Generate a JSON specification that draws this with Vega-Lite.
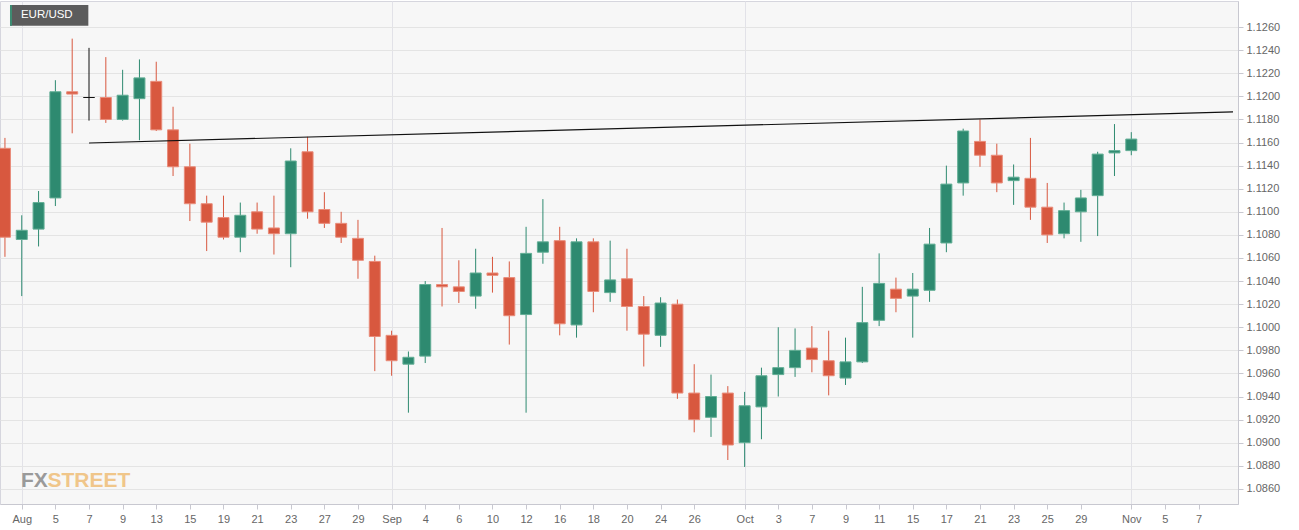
{
  "$schema": "https://vega.github.io/schema/vega-lite/v6.json",
  "autosize": {"type": "none"},
  "padding": {"left": 0, "top": 1, "right": 61, "bottom": 26},
  "width": 1238,
  "height": 503,
  "background": "#ffffff",
  "config": {
    "view": {"fill": "#f7f7f7", "stroke": "#d6d6de"},
    "axis": {
      "labelFont": "Liberation Sans",
      "labelFontSize": 11,
      "labelColor": "#666666",
      "tickColor": "#c8c8d0",
      "domainColor": "#c8c8d0",
      "gridColor": "#e4e4e4",
      "tickSize": 5,
      "labelOverlap": false,
      "title": null
    },
    "axisX": {"labelOverlap": false, "labelFlush": false},
    "axisY": {"labelOverlap": false}
  },
  "datasets": {
    "candles": [
      {"date": "2019-07-31", "t": -1, "o": 1.1155, "h": 1.1164, "l": 1.1061, "c": 1.1078},
      {"date": "2019-08-01", "t": 0, "o": 1.1076, "h": 1.1097, "l": 1.1027, "c": 1.1084},
      {"date": "2019-08-02", "t": 1, "o": 1.1085, "h": 1.1118, "l": 1.1070, "c": 1.1108},
      {"date": "2019-08-05", "t": 2, "o": 1.1112, "h": 1.1214, "l": 1.1105, "c": 1.1204},
      {"date": "2019-08-06", "t": 3, "o": 1.1204, "h": 1.1250, "l": 1.1168, "c": 1.1202},
      {"date": "2019-08-07", "t": 4, "o": 1.1199, "h": 1.1242, "l": 1.1179, "c": 1.1199},
      {"date": "2019-08-08", "t": 5, "o": 1.1199, "h": 1.1234, "l": 1.1177, "c": 1.1180},
      {"date": "2019-08-09", "t": 6, "o": 1.1180, "h": 1.1223, "l": 1.1179, "c": 1.1201},
      {"date": "2019-08-12", "t": 7, "o": 1.1198, "h": 1.1232, "l": 1.1162, "c": 1.1216},
      {"date": "2019-08-13", "t": 8, "o": 1.1213, "h": 1.1230, "l": 1.1170, "c": 1.1171},
      {"date": "2019-08-14", "t": 9, "o": 1.1171, "h": 1.1191, "l": 1.1131, "c": 1.1139},
      {"date": "2019-08-15", "t": 10, "o": 1.1139, "h": 1.1159, "l": 1.1092, "c": 1.1107},
      {"date": "2019-08-16", "t": 11, "o": 1.1107, "h": 1.1114, "l": 1.1066, "c": 1.1091},
      {"date": "2019-08-19", "t": 12, "o": 1.1095, "h": 1.1114, "l": 1.1076, "c": 1.1078},
      {"date": "2019-08-20", "t": 13, "o": 1.1078, "h": 1.1108, "l": 1.1065, "c": 1.1097},
      {"date": "2019-08-21", "t": 14, "o": 1.1100, "h": 1.1108, "l": 1.1081, "c": 1.1085},
      {"date": "2019-08-22", "t": 15, "o": 1.1086, "h": 1.1114, "l": 1.1063, "c": 1.1081},
      {"date": "2019-08-23", "t": 16, "o": 1.1081, "h": 1.1155, "l": 1.1052, "c": 1.1144},
      {"date": "2019-08-26", "t": 17, "o": 1.1152, "h": 1.1165, "l": 1.1094, "c": 1.1100},
      {"date": "2019-08-27", "t": 18, "o": 1.1102, "h": 1.1117, "l": 1.1086, "c": 1.1090},
      {"date": "2019-08-28", "t": 19, "o": 1.1090, "h": 1.1100, "l": 1.1073, "c": 1.1078},
      {"date": "2019-08-29", "t": 20, "o": 1.1077, "h": 1.1093, "l": 1.1042, "c": 1.1058},
      {"date": "2019-08-30", "t": 21, "o": 1.1057, "h": 1.1062, "l": 1.0962, "c": 1.0992},
      {"date": "2019-09-02", "t": 22, "o": 1.0993, "h": 1.0997, "l": 1.0958, "c": 1.0971},
      {"date": "2019-09-03", "t": 23, "o": 1.0968, "h": 1.0979, "l": 1.0926, "c": 1.0974},
      {"date": "2019-09-04", "t": 24, "o": 1.0975, "h": 1.1040, "l": 1.0969, "c": 1.1037},
      {"date": "2019-09-05", "t": 25, "o": 1.1037, "h": 1.1086, "l": 1.1018, "c": 1.1035},
      {"date": "2019-09-06", "t": 26, "o": 1.1035, "h": 1.1058, "l": 1.1021, "c": 1.1031},
      {"date": "2019-09-09", "t": 27, "o": 1.1027, "h": 1.1068, "l": 1.1016, "c": 1.1047},
      {"date": "2019-09-10", "t": 28, "o": 1.1047, "h": 1.1061, "l": 1.1030, "c": 1.1045},
      {"date": "2019-09-11", "t": 29, "o": 1.1043, "h": 1.1057, "l": 1.0985, "c": 1.1010},
      {"date": "2019-09-12", "t": 30, "o": 1.1011, "h": 1.1087, "l": 1.0926, "c": 1.1064},
      {"date": "2019-09-13", "t": 31, "o": 1.1065, "h": 1.1111, "l": 1.1055, "c": 1.1074},
      {"date": "2019-09-16", "t": 32, "o": 1.1075, "h": 1.1087, "l": 1.0993, "c": 1.1003},
      {"date": "2019-09-17", "t": 33, "o": 1.1002, "h": 1.1077, "l": 1.0991, "c": 1.1074},
      {"date": "2019-09-18", "t": 34, "o": 1.1074, "h": 1.1077, "l": 1.1013, "c": 1.1031},
      {"date": "2019-09-19", "t": 35, "o": 1.1030, "h": 1.1075, "l": 1.1022, "c": 1.1041},
      {"date": "2019-09-20", "t": 36, "o": 1.1042, "h": 1.1068, "l": 1.0997, "c": 1.1018},
      {"date": "2019-09-23", "t": 37, "o": 1.1018, "h": 1.1027, "l": 1.0966, "c": 1.0994},
      {"date": "2019-09-24", "t": 38, "o": 1.0993, "h": 1.1026, "l": 1.0983, "c": 1.1021},
      {"date": "2019-09-25", "t": 39, "o": 1.1020, "h": 1.1024, "l": 1.0938, "c": 1.0943},
      {"date": "2019-09-26", "t": 40, "o": 1.0943, "h": 1.0968, "l": 1.0909, "c": 1.0920},
      {"date": "2019-09-27", "t": 41, "o": 1.0922, "h": 1.0959, "l": 1.0905, "c": 1.0940},
      {"date": "2019-09-30", "t": 42, "o": 1.0943, "h": 1.0949, "l": 1.0885, "c": 1.0898},
      {"date": "2019-10-01", "t": 43, "o": 1.0900, "h": 1.0944, "l": 1.0879, "c": 1.0932},
      {"date": "2019-10-02", "t": 44, "o": 1.0931, "h": 1.0965, "l": 1.0903, "c": 1.0958},
      {"date": "2019-10-03", "t": 45, "o": 1.0959, "h": 1.1000, "l": 1.0940, "c": 1.0965},
      {"date": "2019-10-04", "t": 46, "o": 1.0965, "h": 1.0999, "l": 1.0957, "c": 1.0980},
      {"date": "2019-10-07", "t": 47, "o": 1.0982, "h": 1.1001, "l": 1.0961, "c": 1.0972},
      {"date": "2019-10-08", "t": 48, "o": 1.0971, "h": 1.0997, "l": 1.0941, "c": 1.0958},
      {"date": "2019-10-09", "t": 49, "o": 1.0956, "h": 1.0991, "l": 1.0950, "c": 1.0970},
      {"date": "2019-10-10", "t": 50, "o": 1.0970, "h": 1.1035, "l": 1.0969, "c": 1.1004},
      {"date": "2019-10-11", "t": 51, "o": 1.1006, "h": 1.1064, "l": 1.1001, "c": 1.1038},
      {"date": "2019-10-14", "t": 52, "o": 1.1033, "h": 1.1043, "l": 1.1013, "c": 1.1025},
      {"date": "2019-10-15", "t": 53, "o": 1.1027, "h": 1.1047, "l": 1.0991, "c": 1.1033},
      {"date": "2019-10-16", "t": 54, "o": 1.1032, "h": 1.1086, "l": 1.1022, "c": 1.1072},
      {"date": "2019-10-17", "t": 55, "o": 1.1073, "h": 1.1140, "l": 1.1065, "c": 1.1124},
      {"date": "2019-10-18", "t": 56, "o": 1.1125, "h": 1.1172, "l": 1.1114, "c": 1.1170},
      {"date": "2019-10-21", "t": 57, "o": 1.1161, "h": 1.1180, "l": 1.1139, "c": 1.1149},
      {"date": "2019-10-22", "t": 58, "o": 1.1149, "h": 1.1159, "l": 1.1117, "c": 1.1125},
      {"date": "2019-10-23", "t": 59, "o": 1.1127, "h": 1.1141, "l": 1.1106, "c": 1.1130},
      {"date": "2019-10-24", "t": 60, "o": 1.1129, "h": 1.1164, "l": 1.1093, "c": 1.1104},
      {"date": "2019-10-25", "t": 61, "o": 1.1104, "h": 1.1125, "l": 1.1073, "c": 1.1080},
      {"date": "2019-10-28", "t": 62, "o": 1.1081, "h": 1.1108, "l": 1.1077, "c": 1.1101},
      {"date": "2019-10-29", "t": 63, "o": 1.1100, "h": 1.1119, "l": 1.1074, "c": 1.1112},
      {"date": "2019-10-30", "t": 64, "o": 1.1114, "h": 1.1152, "l": 1.1079, "c": 1.1150},
      {"date": "2019-10-31", "t": 65, "o": 1.1151, "h": 1.1176, "l": 1.1131, "c": 1.1153},
      {"date": "2019-11-01", "t": 66, "o": 1.1153, "h": 1.1169, "l": 1.1149, "c": 1.1163}
    ],
    "trend": [
      {"t": 4, "v": 1.11596},
      {"t": 72.05, "v": 1.11865}
    ]
  },
  "layer": [
    {
      "data": {"values": [{"t": -0.05, "v": 1.0862, "s": "FX"}]},
      "mark": {"type": "text", "align": "left", "baseline": "alphabetic", "font": "Liberation Sans", "fontWeight": "bold", "fontSize": 21, "color": "#9a9a9a"},
      "encoding": {
        "x": {"field": "t", "type": "quantitative", "scale": {"domain": [-0.997, 72.05], "nice": false, "zero": false},
          "axis": {
            "orient": "bottom",
            "values": [0,2,4,6,8,10,12,14,16,18,20,22,24,26,28,30,32,34,36,38,40,43,45,47,49,51,53,55,57,59,61,63,66,68,70],
            "tickCount": 500,
            "labelExpr": "['Aug','','5','','7','','9','','13','','15','','19','','21','','23','','27','','29','','Sep','','4','','6','','10','','12','','16','','18','','20','','24','','26','','','Oct','','3','','7','','9','','11','','15','','17','','21','','23','','25','','29','','','Nov','','5','','7','',''][datum.value]",
            "labelPadding": 4,
            "labelFlush": false,
            "labelOverlap": false,
            "grid": true,
            "gridColor": "#e2e2e8",
            "gridOpacity": {"condition": {"test": "datum.value == 0 || datum.value == 22 || datum.value == 43 || datum.value == 66", "value": 1}, "value": 0},
            "title": null
          }
        },
        "y": {"field": "v", "type": "quantitative", "scale": {"domain": [1.08469, 1.12826], "nice": false, "zero": false},
          "axis": {
            "orient": "right",
            "values": [1.086,1.088,1.090,1.092,1.094,1.096,1.098,1.100,1.102,1.104,1.106,1.108,1.110,1.112,1.114,1.116,1.118,1.120,1.122,1.124,1.126],
            "tickCount": 500,
            "format": ".4f",
            "labelPadding": 3,
            "labelOverlap": false,
            "grid": true,
            "title": null
          }
        },
        "text": {"field": "s"}
      }
    },
    {
      "data": {"values": [{"t": 1.53, "v": 1.0862, "s": "STREET"}]},
      "mark": {"type": "text", "align": "left", "baseline": "alphabetic", "font": "Liberation Sans", "fontWeight": "bold", "fontSize": 21, "color": "#f0c68a"},
      "encoding": {
        "x": {"field": "t", "type": "quantitative", "title": null},
        "y": {"field": "v", "type": "quantitative", "title": null},
        "text": {"field": "s"}
      }
    },
    {
      "data": {"name": "candles"},
      "mark": {"type": "rule", "strokeWidth": 1, "clip": true},
      "encoding": {
        "x": {"field": "t", "type": "quantitative", "title": null},
        "y": {"field": "l", "type": "quantitative", "title": null},
        "y2": {"field": "h"},
        "color": {"condition": [{"test": "datum.o == datum.c", "value": "#111111"}, {"test": "datum.c > datum.o", "value": "#2e8a70"}], "value": "#d8583f"}
      }
    },
    {
      "data": {"name": "candles"},
      "mark": {"type": "bar", "width": 11, "strokeWidth": 1, "clip": true},
      "encoding": {
        "x": {"field": "t", "type": "quantitative", "title": null},
        "y": {"field": "o", "type": "quantitative", "title": null},
        "y2": {"field": "c"},
        "fill": {"condition": [{"test": "datum.o == datum.c", "value": "#111111"}, {"test": "datum.c > datum.o", "value": "#2e8a70"}], "value": "#d8583f"},
        "stroke": {"condition": [{"test": "datum.o == datum.c", "value": "#111111"}, {"test": "datum.c > datum.o", "value": "#62ae95"}], "value": "#e98c7a"}
      }
    },
    {
      "data": {"name": "trend"},
      "mark": {"type": "line", "color": "#111111", "strokeWidth": 1.2, "clip": true},
      "encoding": {
        "x": {"field": "t", "type": "quantitative", "title": null},
        "y": {"field": "v", "type": "quantitative", "title": null}
      }
    },
    {
      "data": {"values": [{"t1": -0.70, "t2": 3.96, "v1": 1.12612, "v2": 1.12791}]},
      "mark": {"type": "rect", "color": "#5c5c5c"},
      "encoding": {
        "x": {"field": "t1", "type": "quantitative", "title": null},
        "x2": {"field": "t2"},
        "y": {"field": "v1", "type": "quantitative", "title": null},
        "y2": {"field": "v2"}
      }
    },
    {
      "data": {"values": [{"t1": -0.70, "t2": -0.58, "v1": 1.12612, "v2": 1.12791}]},
      "mark": {"type": "rect", "color": "#3d8c72"},
      "encoding": {
        "x": {"field": "t1", "type": "quantitative", "title": null},
        "x2": {"field": "t2"},
        "y": {"field": "v1", "type": "quantitative", "title": null},
        "y2": {"field": "v2"}
      }
    },
    {
      "data": {"values": [{"t": -0.05, "v": 1.12702, "s": "EUR/USD"}]},
      "mark": {"type": "text", "align": "left", "baseline": "middle", "font": "Liberation Sans", "fontSize": 11.5, "color": "#ffffff"},
      "encoding": {
        "x": {"field": "t", "type": "quantitative", "title": null},
        "y": {"field": "v", "type": "quantitative", "title": null},
        "text": {"field": "s"}
      }
    }
  ]
}
